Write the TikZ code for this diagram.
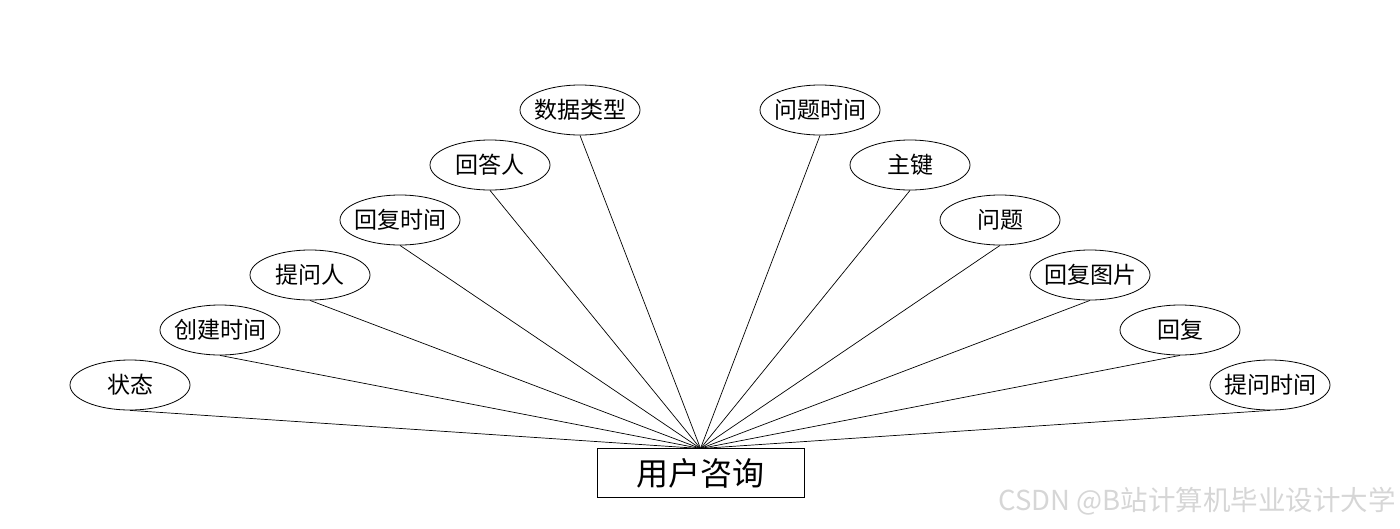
\documentclass[tikz,border=0pt]{standalone}
\usepackage{fontspec}
\setmainfont{Noto Sans CJK SC}
\newfontfamily\cjk{Noto Sans CJK SC}
\usetikzlibrary{shapes.geometric}
\begin{document}
\begin{tikzpicture}[x=1pt,y=-1pt,
  attr/.style={draw,ellipse,line width=0.8pt,minimum width=120pt,minimum height=50pt,inner sep=-6pt,font=\cjk\fontsize{23}{23}\selectfont},
  ent/.style={draw,rectangle,line width=0.8pt,minimum width=207pt,minimum height=49pt,inner sep=0pt,font=\cjk\fontsize{32}{32}\selectfont},
  link/.style={line width=0.7pt}]
\useasboundingbox (0,0) rectangle (1400,528);
\node[ent] (e) at (700.5,473) {用户咨询};
\coordinate (hub) at (700.5,448.5);
\node[attr] (a1) at (130,385) {状态};
\node[attr] (a2) at (220,330) {创建时间};
\node[attr] (a3) at (310,275) {提问人};
\node[attr] (a4) at (400,220) {回复时间};
\node[attr] (a5) at (490,165) {回答人};
\node[attr] (a6) at (580,110) {数据类型};
\node[attr] (b1) at (820,110) {问题时间};
\node[attr] (b2) at (910,165) {主键};
\node[attr] (b3) at (1000,220) {问题};
\node[attr] (b4) at (1090,275) {回复图片};
\node[attr] (b5) at (1180,330) {回复};
\node[attr] (b6) at (1270,385) {提问时间};
\foreach \n in {a1,a2,a3,a4,a5,a6,b1,b2,b3,b4,b5,b6}
  \draw[link] (\n.south) -- (hub);
\node[anchor=east,text=black!16,font=\cjk\fontsize{27.5}{27.5}\selectfont,inner sep=0pt] (wm) at (1396,501) {CSDN @B站计算机毕业设计大学};
\end{tikzpicture}
\end{document}
